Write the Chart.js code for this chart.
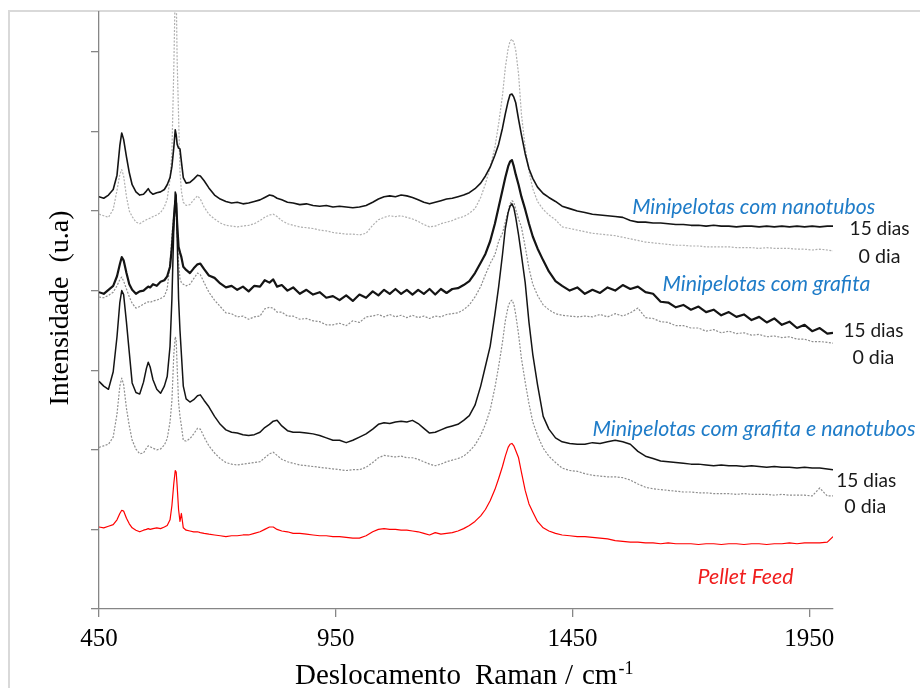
<!DOCTYPE html>
<html>
<head>
<meta charset="utf-8">
<title>Espectros Raman</title>
<script src="https://cdn.jsdelivr.net/npm/chart.js@4.4.1/dist/chart.umd.min.js"></script>
<style>
  html, body { margin: 0; padding: 0; background: #ffffff; }
  #wrap { width: 920px; height: 688px; }
</style>
</head>
<body>
<div id="wrap"><canvas id="raman" width="920" height="688"></canvas></div>
<script>
// Wavenumber grid (cm-1) shared by all spectra
const wavenumber = [450,460,470,480,488,494,498,502,508,514,
  520,528,536,544,550,554,558,564,572,580,
  588,594,600,604,608,611,613,615,618,621,
  624,628,634,642,650,658,664,672,682,694,
  706,718,730,742,754,766,778,790,800,810,
  818,826,836,848,860,874,888,902,916,930,
  944,958,972,986,1000,1014,1028,1040,1052,1064,
  1076,1088,1100,1112,1124,1136,1148,1160,1172,1184,
  1196,1208,1220,1232,1244,1256,1266,1276,1286,1294,
  1302,1308,1314,1318,1322,1326,1330,1336,1342,1350,
  1358,1366,1376,1388,1400,1414,1428,1444,1460,1476,
  1492,1508,1524,1540,1556,1572,1588,1604,1620,1636,
  1652,1668,1684,1700,1716,1732,1748,1764,1780,1796,
  1812,1828,1844,1860,1876,1892,1908,1924,1940,1956,
  1972,1988,2000];

// Minipelotas com nanotubos - 15 dias (offset intensity, u.a)
const nanotubos15 = [5.18,5.16,5.20,5.27,5.45,5.82,5.98,5.90,5.68,5.48,
  5.33,5.24,5.20,5.21,5.25,5.28,5.24,5.21,5.23,5.24,
  5.27,5.33,5.42,5.56,5.80,6.02,5.96,5.84,5.79,5.78,
  5.62,5.42,5.35,5.36,5.40,5.45,5.44,5.38,5.29,5.20,
  5.15,5.12,5.10,5.11,5.09,5.10,5.12,5.14,5.17,5.20,
  5.19,5.16,5.14,5.11,5.10,5.08,5.09,5.07,5.06,5.07,
  5.05,5.06,5.05,5.04,5.05,5.07,5.11,5.15,5.18,5.19,
  5.18,5.20,5.19,5.17,5.14,5.11,5.09,5.11,5.13,5.15,
  5.16,5.18,5.20,5.23,5.28,5.35,5.44,5.55,5.70,5.84,
  6.04,6.22,6.38,6.46,6.47,6.43,6.36,6.15,5.96,5.72,
  5.53,5.41,5.30,5.22,5.17,5.12,5.06,5.03,5.00,4.98,
  4.96,4.95,4.94,4.93,4.92,4.88,4.86,4.86,4.85,4.85,
  4.84,4.83,4.83,4.82,4.82,4.81,4.82,4.81,4.81,4.80,
  4.81,4.81,4.80,4.81,4.80,4.81,4.80,4.81,4.80,4.81,
  4.80,4.81,4.81];

// Minipelotas com nanotubos - 0 dia
const nanotubos0 = [4.96,4.94,4.92,5.02,5.26,5.46,5.52,5.44,5.18,5.00,
  4.93,4.86,4.84,4.87,4.89,4.90,4.91,4.93,4.95,4.98,
  5.05,5.15,5.40,5.75,6.80,7.80,7.80,6.90,6.20,5.50,
  5.25,5.11,5.07,5.08,5.14,5.19,5.15,5.05,4.96,4.90,
  4.85,4.82,4.81,4.80,4.81,4.82,4.84,4.88,4.92,4.95,
  4.96,4.93,4.88,4.84,4.82,4.80,4.79,4.78,4.76,4.75,
  4.73,4.72,4.71,4.71,4.70,4.72,4.82,4.89,4.92,4.94,
  4.93,4.94,4.92,4.90,4.87,4.83,4.80,4.81,4.84,4.86,
  4.88,4.91,4.93,4.97,5.03,5.17,5.34,5.55,5.80,6.10,
  6.45,6.80,7.04,7.13,7.16,7.12,7.02,6.72,6.22,5.80,
  5.50,5.28,5.12,5.02,4.95,4.89,4.80,4.78,4.76,4.74,
  4.72,4.71,4.70,4.69,4.67,4.65,4.63,4.61,4.60,4.59,
  4.58,4.57,4.57,4.56,4.56,4.55,4.55,4.55,4.55,4.54,
  4.54,4.54,4.53,4.54,4.53,4.53,4.53,4.52,4.52,4.51,
  4.52,4.51,4.50];

// Minipelotas com grafita - 15 dias
const grafita15 = [3.98,3.96,4.01,4.06,4.18,4.33,4.42,4.38,4.22,4.08,
  4.01,3.96,3.99,4.00,4.03,4.05,4.04,4.08,4.06,4.11,
  4.13,4.18,4.30,4.55,4.90,5.12,5.10,4.85,4.55,4.48,
  4.42,4.30,4.26,4.22,4.28,4.33,4.34,4.27,4.19,4.16,
  4.09,4.04,4.06,4.01,4.05,3.99,4.06,4.05,4.13,4.10,
  4.14,4.05,4.07,4.00,4.04,3.96,4.01,3.95,3.98,3.91,
  3.93,3.88,3.94,3.87,3.95,3.91,3.99,3.94,4.01,3.96,
  4.02,3.96,4.01,3.95,4.01,3.96,4.02,3.95,4.02,3.97,
  4.02,4.03,4.07,4.12,4.22,4.35,4.46,4.62,4.84,5.05,
  5.26,5.42,5.56,5.62,5.64,5.56,5.46,5.33,5.18,5.02,
  4.84,4.68,4.53,4.38,4.24,4.12,4.06,4.00,4.04,3.96,
  4.01,3.97,4.04,4.00,4.07,4.02,4.05,3.98,3.96,3.86,
  3.85,3.79,3.82,3.76,3.80,3.73,3.76,3.69,3.73,3.67,
  3.70,3.63,3.67,3.60,3.65,3.57,3.61,3.53,3.57,3.49,
  3.53,3.46,3.47];

// Minipelotas com grafita - 0 dia
const grafita0 = [3.92,3.91,3.94,3.98,4.06,4.14,4.17,4.12,4.02,3.92,
  3.84,3.78,3.80,3.83,3.85,3.86,3.85,3.87,3.88,3.90,
  3.93,4.02,4.34,4.70,4.95,5.02,4.98,4.70,4.35,4.15,
  4.10,4.08,4.06,4.08,4.15,4.22,4.20,4.10,3.98,3.88,
  3.80,3.72,3.71,3.67,3.68,3.64,3.67,3.68,3.77,3.79,
  3.78,3.73,3.73,3.68,3.68,3.64,3.65,3.62,3.61,3.57,
  3.57,3.59,3.56,3.62,3.60,3.67,3.68,3.70,3.67,3.70,
  3.67,3.69,3.66,3.69,3.66,3.68,3.65,3.68,3.67,3.70,
  3.71,3.72,3.76,3.82,3.92,4.05,4.20,4.34,4.45,4.62,
  4.72,4.86,5.00,5.09,5.13,5.11,5.02,4.90,4.80,4.55,
  4.28,4.08,3.94,3.82,3.76,3.71,3.69,3.68,3.67,3.68,
  3.67,3.70,3.67,3.71,3.68,3.72,3.78,3.66,3.65,3.61,
  3.60,3.56,3.56,3.53,3.53,3.49,3.51,3.47,3.49,3.46,
  3.47,3.44,3.45,3.42,3.43,3.41,3.42,3.39,3.39,3.36,
  3.36,3.35,3.34];

// Minipelotas com grafita e nanotubos - 15 dias
const grafitaNano15 = [2.86,2.80,2.76,2.98,3.42,3.85,4.00,3.95,3.60,3.22,
  2.84,2.72,2.70,2.85,3.02,3.10,3.04,2.88,2.76,2.71,
  2.80,2.92,3.30,3.90,4.80,5.24,5.20,4.70,3.90,3.50,
  3.20,2.80,2.64,2.60,2.63,2.68,2.69,2.62,2.54,2.42,
  2.32,2.25,2.22,2.21,2.19,2.18,2.19,2.22,2.28,2.32,
  2.36,2.37,2.30,2.24,2.22,2.22,2.21,2.20,2.18,2.15,
  2.12,2.12,2.09,2.12,2.16,2.20,2.26,2.32,2.34,2.33,
  2.35,2.36,2.35,2.37,2.33,2.27,2.21,2.22,2.25,2.28,
  2.30,2.32,2.37,2.43,2.56,2.80,3.05,3.30,3.70,4.05,
  4.45,4.78,4.98,5.06,5.09,5.04,4.92,4.70,4.45,4.10,
  3.60,3.20,2.82,2.42,2.26,2.15,2.10,2.08,2.07,2.07,
  2.09,2.08,2.10,2.12,2.10,2.07,1.98,1.92,1.89,1.86,
  1.85,1.84,1.83,1.82,1.82,1.81,1.80,1.81,1.80,1.80,
  1.79,1.80,1.79,1.78,1.79,1.78,1.78,1.77,1.78,1.77,
  1.77,1.76,1.75];

// Minipelotas com grafita e nanotubos - 0 dia
const grafitaNano0 = [2.03,2.05,2.07,2.16,2.45,2.80,2.90,2.82,2.52,2.30,
  2.12,2.01,1.95,1.96,2.02,2.05,2.04,2.02,2.00,2.01,
  2.06,2.14,2.35,2.62,3.20,3.42,3.38,3.05,2.60,2.42,
  2.30,2.12,2.11,2.14,2.20,2.27,2.26,2.16,2.05,1.96,
  1.89,1.84,1.82,1.81,1.82,1.83,1.84,1.85,1.90,1.95,
  1.97,1.93,1.88,1.85,1.83,1.81,1.80,1.79,1.78,1.77,
  1.76,1.75,1.74,1.75,1.75,1.78,1.84,1.90,1.93,1.92,
  1.91,1.92,1.90,1.90,1.88,1.85,1.82,1.80,1.82,1.85,
  1.87,1.89,1.92,1.98,2.06,2.18,2.32,2.50,2.78,3.05,
  3.35,3.62,3.80,3.86,3.88,3.83,3.70,3.45,3.15,2.85,
  2.58,2.35,2.18,2.02,1.92,1.84,1.77,1.74,1.73,1.70,
  1.68,1.67,1.66,1.66,1.65,1.62,1.57,1.53,1.51,1.50,
  1.49,1.48,1.47,1.47,1.46,1.46,1.45,1.45,1.45,1.44,
  1.45,1.44,1.44,1.44,1.43,1.44,1.43,1.43,1.43,1.42,
  1.52,1.42,1.42];

// Pellet Feed
const pelletFeed = [1.03,1.02,1.04,1.06,1.12,1.20,1.24,1.23,1.14,1.07,
  1.02,0.99,0.97,0.99,1.00,1.01,1.00,1.01,1.02,1.01,
  1.03,1.05,1.12,1.30,1.58,1.74,1.72,1.55,1.25,1.10,
  1.20,1.02,0.99,0.98,0.97,0.97,0.96,0.95,0.94,0.93,
  0.92,0.91,0.92,0.92,0.93,0.93,0.95,0.97,1.00,1.03,
  1.03,1.00,0.98,0.97,0.95,0.95,0.94,0.93,0.92,0.92,
  0.91,0.91,0.90,0.89,0.89,0.92,0.97,1.00,1.01,1.00,
  1.00,0.99,0.99,0.98,0.97,0.95,0.93,0.96,0.94,0.95,
  0.96,0.98,1.01,1.05,1.10,1.17,1.25,1.36,1.50,1.64,
  1.79,1.92,2.03,2.07,2.08,2.05,1.99,1.90,1.72,1.49,
  1.32,1.22,1.10,1.02,0.98,0.95,0.93,0.92,0.91,0.91,
  0.90,0.89,0.88,0.86,0.85,0.84,0.84,0.83,0.83,0.82,
  0.83,0.82,0.82,0.82,0.81,0.82,0.82,0.81,0.82,0.82,
  0.81,0.82,0.82,0.81,0.82,0.82,0.83,0.82,0.83,0.83,
  0.83,0.84,0.91];

// Axis ticks
const xTickValues = [450, 950, 1450, 1950];
const yTickValues = [0, 1, 2, 3, 4, 5, 6, 7];

// Curve labels, anchored in data coordinates (left edge, vertical centre)
const curveLabels = [
  { text: 'Minipelotas com nanotubos', x: 1576, y: 5.05 },
  { text: '15 dias', x: 2035, y: 4.77 },
  { text: '0 dia', x: 2054, y: 4.43 },
  { text: 'Minipelotas com grafita', x: 1640, y: 4.08 },
  { text: '15 dias', x: 2022, y: 3.49 },
  { text: '0 dia', x: 2041, y: 3.16 },
  { text: 'Minipelotas com grafita e nanotubos', x: 1492, y: 2.26 },
  { text: '15 dias', x: 2007, y: 1.61 },
  { text: '0 dia', x: 2024, y: 1.28 },
  { text: 'Pellet Feed', x: 1714, y: 0.40 }
];

// Text styles: target width in px for each label kind
const labelStyles = {
  'Minipelotas com nanotubos': { font: 'italic', color: '#1F7CC8', width: 243 },
  'Minipelotas com grafita': { font: 'italic', color: '#1F7CC8', width: 208 },
  'Minipelotas com grafita e nanotubos': { font: 'italic', color: '#1F7CC8', width: 323 },
  '15 dias': { font: 'normal', color: '#1a1a1a', width: 60 },
  '0 dia': { font: 'normal', color: '#1a1a1a', width: 42 },
  'Pellet Feed': { font: 'italic', color: '#F01E1E', width: 96 }
};
const labelFamily = 'Lato, "Open Sans", sans-serif';
const serif = '"Liberation Serif", "DejaVu Serif", serif';

function points(values) {
  return wavenumber.map((w, i) => ({ x: w, y: values[i] }));
}

const datasets = [
  { label: 'Minipelotas com nanotubos 15 dias', data: points(nanotubos15), borderColor: '#141414', borderWidth: 1.6 },
  { label: 'Minipelotas com grafita 15 dias', data: points(grafita15), borderColor: '#141414', borderWidth: 2.2 },
  { label: 'Minipelotas com grafita e nanotubos 15 dias', data: points(grafitaNano15), borderColor: '#141414', borderWidth: 1.5 },
  { label: 'Pellet Feed', data: points(pelletFeed), borderColor: '#FF0000', borderWidth: 1.2 },
  { label: 'Minipelotas com nanotubos 0 dia', data: points(nanotubos0), borderColor: '#b0b0b0', borderWidth: 1.2, borderDash: [2, 1.5] },
  { label: 'Minipelotas com grafita 0 dia', data: points(grafita0), borderColor: '#8e8e8e', borderWidth: 1.2, borderDash: [2, 1.5] },
  { label: 'Minipelotas com grafita e nanotubos 0 dia', data: points(grafitaNano0), borderColor: '#8e8e8e', borderWidth: 1.2, borderDash: [2, 1.5] }
];

// White page with the light grey frame
const framePlugin = {
  id: 'frame',
  beforeDraw(chart) {
    const ctx = chart.ctx;
    ctx.save();
    ctx.fillStyle = '#ffffff';
    ctx.fillRect(0, 0, chart.width, chart.height);
    ctx.strokeStyle = '#d9d9d9';
    ctx.lineWidth = 2;
    ctx.strokeRect(9, 11, 1000, 1000);
    ctx.restore();
  }
};

// Axis titles and curve labels
const textPlugin = {
  id: 'spectrumText',
  afterDraw(chart) {
    const { ctx } = chart;
    const xs = chart.scales.x, ys = chart.scales.y;
    ctx.save();
    ctx.textAlign = 'left';
    ctx.textBaseline = 'middle';
    for (const lab of curveLabels) {
      const st = labelStyles[lab.text];
      ctx.font = `${st.font} 20px ${labelFamily}`;
      const size = 20 * st.width / ctx.measureText(lab.text).width;
      ctx.font = `${st.font} ${size.toFixed(2)}px ${labelFamily}`;
      ctx.fillStyle = st.color;
      ctx.fillText(lab.text, xs.getPixelForValue(lab.x), ys.getPixelForValue(lab.y));
    }

    // x-axis title
    ctx.fillStyle = '#000000';
    ctx.textBaseline = 'alphabetic';
    ctx.font = `29px ${serif}`;
    const base = 684;
    ctx.fillText('Deslocamento', 295, base);
    ctx.fillText('Raman', 475, base);
    ctx.fillText('/', 565, base);
    ctx.fillText('cm', 582, base);
    const cmEnd = 582 + ctx.measureText('cm').width;
    ctx.font = `18px ${serif}`;
    ctx.fillText('-1', cmEnd + 1, base - 10);

    // y-axis title
    ctx.font = `28px ${serif}`;
    ctx.translate(68, 308);
    ctx.rotate(-Math.PI / 2);
    ctx.textAlign = 'center';
    ctx.fillText('Intensidade  (u.a)', 0, 0);
    ctx.restore();
  }
};

const axisGrey = '#868686';
new Chart(document.getElementById('raman'), {
  type: 'line',
  data: { datasets },
  options: {
    responsive: false,
    animation: false,
    events: [],
    layout: { padding: { left: 79, right: 87, top: 12, bottom: 39 } },
    elements: { point: { radius: 0 }, line: { tension: 0, borderJoinStyle: 'round' } },
    plugins: { legend: { display: false }, tooltip: { enabled: false } },
    scales: {
      x: {
        type: 'linear',
        min: 450,
        max: 2000,
        afterBuildTicks: s => { s.ticks = xTickValues.map(v => ({ value: v })); },
        afterFit: s => { s.height = 40; },
        grid: { drawOnChartArea: false, drawTicks: true, tickLength: 8, color: axisGrey, lineWidth: 1.3 },
        border: { color: axisGrey, width: 1.3 },
        ticks: { color: '#000000', font: { family: serif, size: 25 }, padding: 7, maxRotation: 0, autoSkip: false,
                 callback: v => String(v) }
      },
      y: {
        min: 0,
        max: 7.5,
        afterBuildTicks: s => { s.ticks = yTickValues.map(v => ({ value: v })); },
        afterFit: s => { s.width = 20; },
        grid: { drawOnChartArea: false, drawTicks: true, tickLength: 8, color: axisGrey, lineWidth: 1.3 },
        border: { color: axisGrey, width: 1.3 },
        ticks: { display: false }
      }
    }
  },
  plugins: [framePlugin, textPlugin]
});
</script>
</body>
</html>
